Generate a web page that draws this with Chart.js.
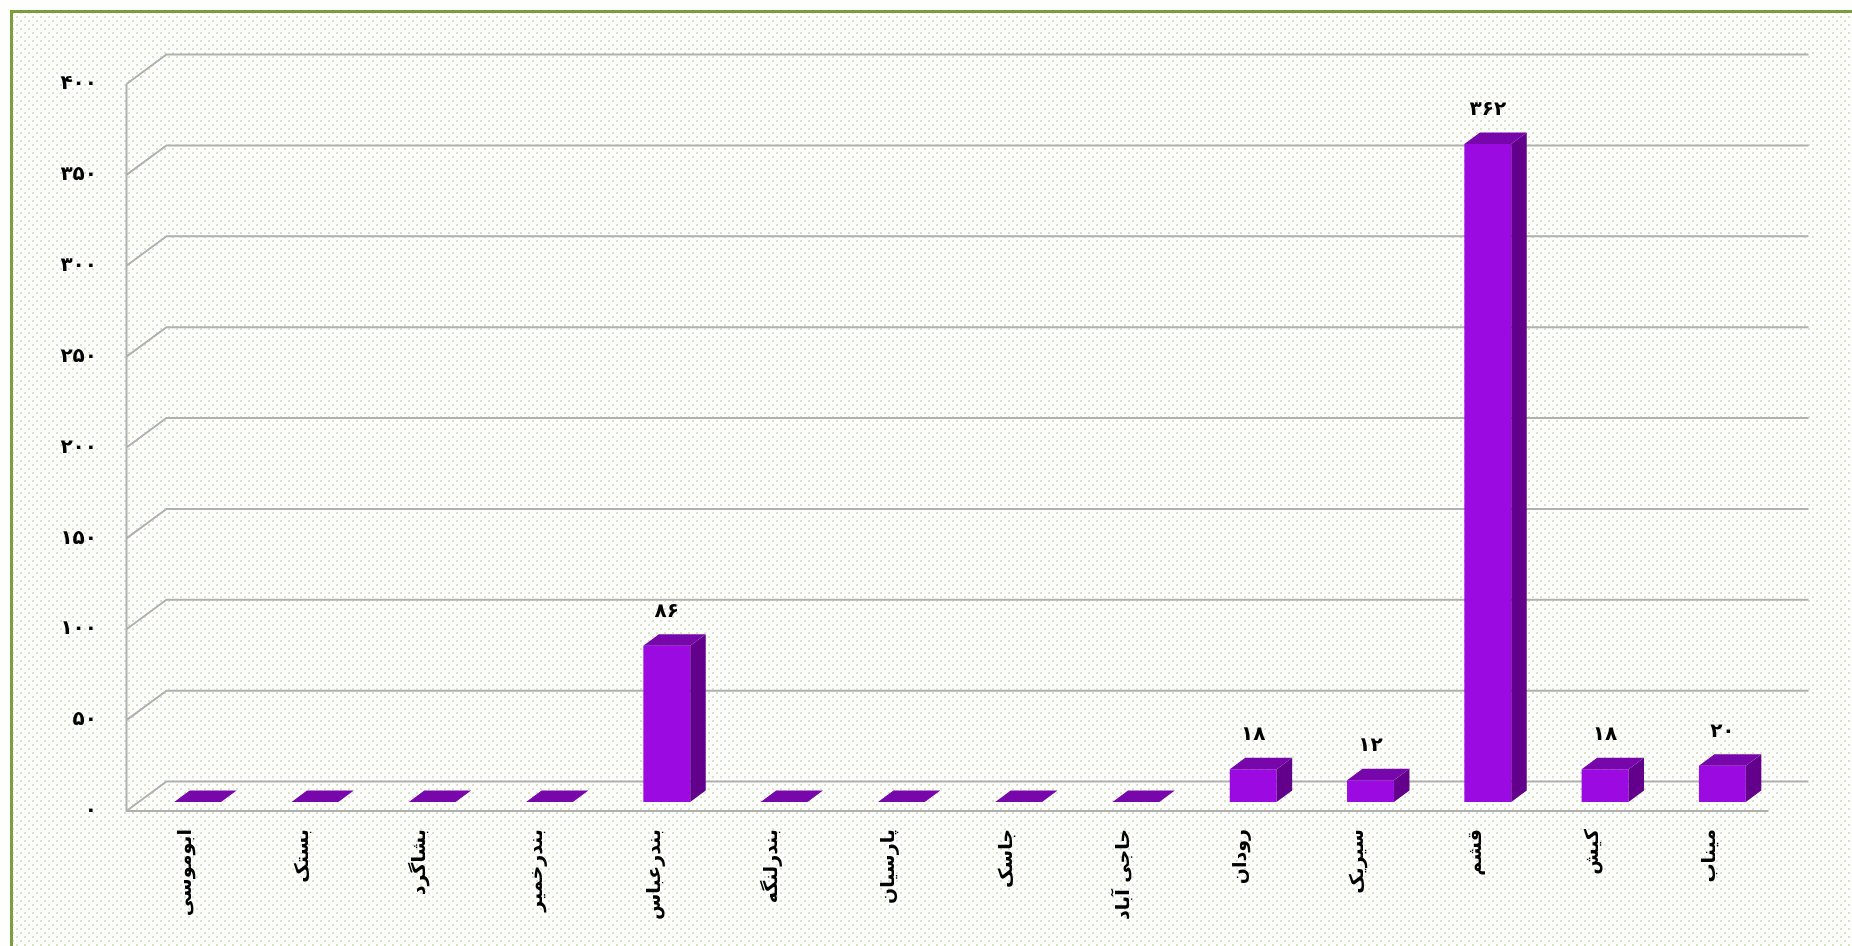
<!DOCTYPE html>
<html lang="fa">
<head>
<meta charset="UTF-8">
<title>تعداد به تفکیک شهرستان</title>
<script src="https://cdn.jsdelivr.net/npm/chart.js"></script>
<style>
  html,body{margin:0;padding:0;background:#fff;overflow:hidden}
  /* قاب سبز با زمینه نقطه‌چین */
  #qab{position:absolute;left:10px;top:10px;width:1900px;height:1000px;border:3px solid #7a9e3c;
    background-color:#fff;
    background-image:radial-gradient(circle,#d8e3c4 0.9px,transparent 1.3px),radial-gradient(circle,#d8e3c4 0.9px,transparent 1.3px);
    background-size:8px 8px;background-position:0 0,4px 4px}
  #nemudar{position:absolute;left:0;top:0}
</style>
</head>
<body>
<div id="qab"></div>
<canvas id="nemudar" width="1852" height="946"></canvas>
<script>
/* ---------- داده‌ها ---------- */
const shahrestanha = ['ابوموسی','بستک','بشاگرد','بندرخمیر','بندرعباس','بندرلنگه','پارسیان','جاسک','حاجی آباد','رودان','سیریک','قشم','کیش','میناب'];
const tedad = [0,0,0,0,86,0,0,0,0,18,12,362,18,20];
const mehvarY = {min:0, max:400, gam:50};

/* ---------- ظاهر سه‌بعدی ---------- */
const RANG_ROO = '#9b0ae0', RANG_SAGHF = '#7807ab', RANG_KENAR = '#62008c';
const OMGH_DX = 15.5, OMGH_DY = 11.5;   // عمق ستون
const JOLO_DX = 12.5, JOLO_DY = 9;      // فاصله ستون‌ها تا لبه جلوی کف
const DIVAR_DX = 40, DIVAR_DY = 29.5;   // عمق کل (جلو تا دیوار پشتی)
const FONT_Y = {family:'DejaVu Sans', size:20, weight:'bold'};
const FONT_X = {family:'DejaVu Sans', size:19, weight:'bold'};
const FONT_MEGHDAR = {family:'DejaVu Sans', size:20, weight:'bold'};

const faNum = n => String(n).replace(/\d/g, d => '۰۱۲۳۴۵۶۷۸۹'[d]);

// خطوط راهنما روی دیوار پشتی و دیوار چپ
const divarha = {
  id:'divarha',
  beforeDatasetsDraw(chart){
    const {ctx, chartArea:ca, scales:{y}} = chart;
    const L = ca.left - JOLO_DX, R = ca.right - JOLO_DX;
    ctx.save();
    ctx.strokeStyle = '#b0b0b0';
    ctx.lineWidth = 2;
    ctx.beginPath();
    y.ticks.forEach(t => {
      const yf = y.getPixelForValue(t.value) + JOLO_DY;
      ctx.moveTo(L, yf);
      ctx.lineTo(L + DIVAR_DX, yf - DIVAR_DY);
      ctx.lineTo(R + DIVAR_DX, yf - DIVAR_DY);
    });
    const y0 = y.getPixelForValue(mehvarY.min) + JOLO_DY;
    const yTop = y.getPixelForValue(mehvarY.max) + JOLO_DY;
    ctx.moveTo(L, yTop);
    ctx.lineTo(L, y0);
    ctx.lineTo(R, y0);
    ctx.stroke();
    ctx.restore();
  }
};

// سقف و بدنه کناری ستون‌ها + برچسب مقدار
const sotoon3d = {
  id:'sotoon3d',
  afterDatasetsDraw(chart){
    const {ctx} = chart;
    const meta = chart.getDatasetMeta(0);
    ctx.save();
    meta.data.forEach((bar, i) => {
      const x1 = bar.x - bar.width / 2, x2 = bar.x + bar.width / 2;
      const yt = bar.y, yb = bar.base;
      // سقف
      ctx.fillStyle = RANG_SAGHF;
      ctx.beginPath();
      ctx.moveTo(x1, yt);
      ctx.lineTo(x2, yt);
      ctx.lineTo(x2 + OMGH_DX, yt - OMGH_DY);
      ctx.lineTo(x1 + OMGH_DX, yt - OMGH_DY);
      ctx.closePath();
      ctx.fill();
      // کناره
      if (yb - yt > 0.5) {
        ctx.fillStyle = RANG_KENAR;
        ctx.beginPath();
        ctx.moveTo(x2, yt);
        ctx.lineTo(x2 + OMGH_DX, yt - OMGH_DY);
        ctx.lineTo(x2 + OMGH_DX, yb - OMGH_DY);
        ctx.lineTo(x2, yb);
        ctx.closePath();
        ctx.fill();
      }
      // برچسب مقدار
      const v = tedad[i];
      if (v > 0) {
        ctx.fillStyle = '#000';
        ctx.font = `${FONT_MEGHDAR.weight} ${FONT_MEGHDAR.size}px "${FONT_MEGHDAR.family}"`;
        ctx.textAlign = 'center';
        ctx.textBaseline = 'middle';
        ctx.fillText(faNum(v), bar.x, yt - 34);
      }
    });
    ctx.restore();
  }
};

new Chart(document.getElementById('nemudar'), {
  type:'bar',
  data:{
    labels:shahrestanha,
    datasets:[{
      data:tedad,
      backgroundColor:RANG_ROO,
      borderWidth:0,
      categoryPercentage:1,
      barPercentage:0.4
    }]
  },
  options:{
    responsive:false,
    animation:false,
    layout:{padding:{left:0, right:71, top:75, bottom:0}},
    plugins:{legend:{display:false}, tooltip:{enabled:false}},
    scales:{
      x:{
        grid:{display:false, drawTicks:false},
        border:{display:false},
        ticks:{minRotation:90, maxRotation:90, padding:27, labelOffset:-12, color:'#000', font:FONT_X},
        afterFit:s => { s.height = 144; }
      },
      y:{
        min:mehvarY.min, max:mehvarY.max,
        grid:{display:false, drawTicks:false},
        border:{display:false},
        ticks:{stepSize:mehvarY.gam, padding:42, labelOffset:9, color:'#000', font:FONT_Y,
               callback:v => faNum(v)},
        afterFit:s => { s.width = 139; }
      }
    }
  },
  plugins:[divarha, sotoon3d]
});
</script>
</body>
</html>
